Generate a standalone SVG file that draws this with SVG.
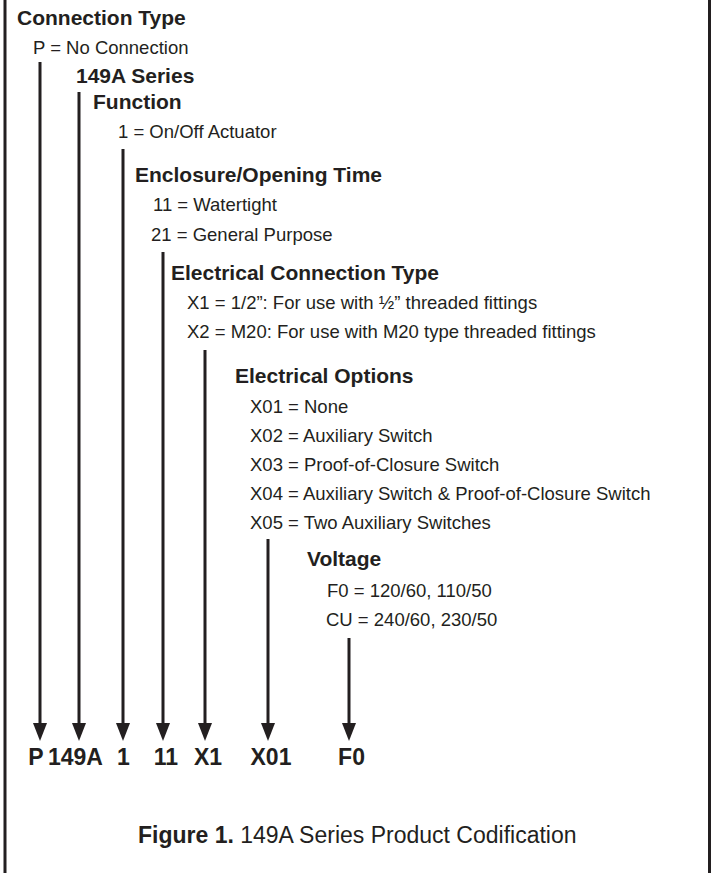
<svg xmlns="http://www.w3.org/2000/svg" width="711" height="873" viewBox="0 0 711 873">
<style>
text { font-family: "Liberation Sans", Arial, sans-serif; fill: #231f20; }
.h { font-size: 21px; font-weight: bold; }
.t { font-size: 18.5px; }
.code { font-size: 23px; font-weight: bold; text-anchor: middle; }
.cap { font-size: 23px; }
.ln { stroke: #231f20; stroke-width: 3; fill: none; }
.frame { stroke: #231f20; stroke-width: 3; }
</style>
<defs>
<marker id="arr" markerUnits="userSpaceOnUse" viewBox="0 -7 18 14" markerWidth="18" markerHeight="14" refX="1" refY="0" orient="auto">
<path d="M0,-7 L18,0 L0,7 Z" fill="#231f20"/>
</marker>
</defs>
<rect width="711" height="873" fill="#ffffff"/>
<g id="frame">
<line class="frame" x1="5" y1="0" x2="5" y2="873"/>
<line class="frame" x1="709.5" y1="0" x2="709.5" y2="873"/>
</g>
<g id="connection-type">
<text class="h" x="17" y="25">Connection Type</text>
<text class="t" x="33" y="54">P = No Connection</text>
</g>
<g id="series">
<text class="h" x="76" y="83">149A Series</text>
</g>
<g id="function">
<text class="h" x="93" y="109">Function</text>
<text class="t" x="118" y="138">1 = On/Off Actuator</text>
</g>
<g id="enclosure">
<text class="h" x="135" y="182">Enclosure/Opening Time</text>
<text class="t" x="153" y="211">11 = Watertight</text>
<text class="t" x="151" y="241">21 = General Purpose</text>
</g>
<g id="electrical-connection">
<text class="h" x="171" y="280">Electrical Connection Type</text>
<text class="t" x="187" y="309">X1 = 1/2”: For use with ½” threaded fittings</text>
<text class="t" x="187" y="338">X2 = M20: For use with M20 type threaded fittings</text>
</g>
<g id="electrical-options">
<text class="h" x="235" y="383">Electrical Options</text>
<text class="t" x="250" y="413">X01 = None</text>
<text class="t" x="250" y="442">X02 = Auxiliary Switch</text>
<text class="t" x="250" y="471">X03 = Proof-of-Closure Switch</text>
<text class="t" x="250" y="500">X04 = Auxiliary Switch &amp; Proof-of-Closure Switch</text>
<text class="t" x="250" y="529">X05 = Two Auxiliary Switches</text>
</g>
<g id="voltage">
<text class="h" x="307" y="566">Voltage</text>
<text class="t" x="327" y="597">F0 = 120/60, 110/50</text>
<text class="t" x="326" y="626">CU = 240/60, 230/50</text>
</g>
<g id="connectors">
<line class="ln" x1="40" y1="62" x2="40" y2="724" marker-end="url(#arr)"/>
<line class="ln" x1="79" y1="92" x2="79" y2="724" marker-end="url(#arr)"/>
<line class="ln" x1="123" y1="149" x2="123" y2="724" marker-end="url(#arr)"/>
<line class="ln" x1="163" y1="252" x2="163" y2="724" marker-end="url(#arr)"/>
<line class="ln" x1="205" y1="350" x2="205" y2="724" marker-end="url(#arr)"/>
<line class="ln" x1="268" y1="539" x2="268" y2="724" marker-end="url(#arr)"/>
<line class="ln" x1="349" y1="638" x2="349" y2="724" marker-end="url(#arr)"/>
</g>
<g id="codes">
<text class="code" x="36" y="765">P</text>
<text class="code" x="75.5" y="765">149A</text>
<text class="code" x="123.5" y="765">1</text>
<text class="code" x="166" y="765">11</text>
<text class="code" x="208" y="765">X1</text>
<text class="code" x="271" y="765">X01</text>
<text class="code" x="351.5" y="765">F0</text>
</g>
<g id="caption">
<text class="cap" x="138" y="843"><tspan font-weight="bold">Figure 1.</tspan> 149A Series Product Codification</text>
</g>
</svg>
